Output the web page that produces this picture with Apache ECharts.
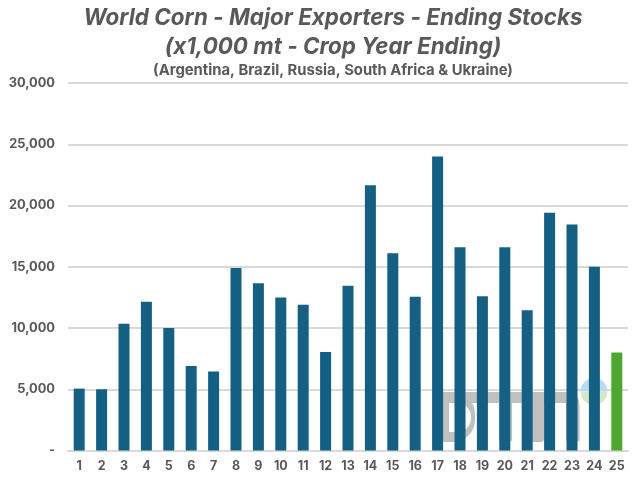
<!DOCTYPE html>
<html><head><meta charset="utf-8">
<style>html,body{margin:0;padding:0;background:#fff}#c{width:640px;height:480px}</style>
<script src="https://cdn.jsdelivr.net/npm/echarts@6/dist/echarts.min.js"></script>
</head><body><div id="c"></div>
<script>
const categories = ['1','2','3','4','5','6','7','8','9','10','11','12','13','14','15','16','17','18','19','20','21','22','23','24','25'];
const stocks = [5050,5000,10350,12150,10000,6900,6450,14900,13650,12500,11900,8050,13450,21650,16100,12550,24000,16600,12600,16600,11450,19400,18450,15000,8000];
const highlighted = '25';
const titleLine1 = 'World Corn - Major Exporters - Ending Stocks';
const titleLine2 = '(x1,000 mt - Crop Year Ending)';
const subtitle = '(Argentina, Brazil, Russia, South Africa & Ukraine)';
const FONT = 'Inter';
const GREY = '#c0c0c0';
const wm = (x,y,width,height,r,fill) => ({type:'rect',z:1,silent:true,shape:{x,y,width,height,r},style:{fill:fill||GREY}});
const chart = echarts.init(document.getElementById('c'), null, {renderer:'canvas'});
chart.setOption({
  animation:false,
  backgroundColor:'#fff',
  textStyle:{fontFamily:FONT},
  grid:{left:68,right:12,top:83,bottom:29.5,containLabel:false},
  graphic:[
    wm(442,392,33,50,[2,22,22,2]),
    wm(449,403,22,29,[0,14,14,0],'#fff'),
    wm(465,392,114,11,[0,13,0,0]),
    wm(499,392,13,50,[0,0,3,3]),
    wm(531,392,13,50,[0,0,3,3]),
    wm(566,392,13.5,50,[0,13,3,3]),
    {type:'sector',z:1,silent:true,shape:{cx:594,cy:391.5,r:13.5,startAngle:Math.PI,endAngle:2*Math.PI},style:{fill:'#b9dcf2'}},
    {type:'sector',z:1,silent:true,shape:{cx:594,cy:391.5,r:13.5,startAngle:0,endAngle:Math.PI},style:{fill:'#d3e8c8'}},
    {type:'text',x:333,y:7,style:{text:titleLine1,align:'center',fontFamily:FONT,fontStyle:'italic',fontWeight:'bold',fontSize:22.4,fill:'#595959'}},
    {type:'text',x:333,y:36,style:{text:titleLine2,align:'center',fontFamily:FONT,fontStyle:'italic',fontWeight:'bold',fontSize:22.4,fill:'#595959'}},
    {type:'text',x:333,y:63,style:{text:subtitle,align:'center',fontFamily:FONT,fontWeight:'bold',fontSize:14.8,fill:'#595959'}}
  ],
  xAxis:{type:'category',data:categories,
    axisLine:{show:true,lineStyle:{color:'#d9d9d9',width:2}},axisTick:{show:false},
    axisLabel:{interval:0,margin:9,color:'#595959',fontFamily:FONT,fontWeight:'bold',fontSize:12.5}},
  yAxis:{type:'value',min:0,max:30000,interval:5000,
    axisLine:{show:false},axisTick:{show:false},
    splitLine:{show:true,lineStyle:{color:'#d9d9d9',width:2}},
    axisLabel:{margin:13,color:'#595959',fontFamily:FONT,fontWeight:'bold',fontSize:12.8,
      formatter:v=>v===0?'-':v.toLocaleString('en-US')}},
  series:[{type:'bar',z:3,barWidth:11,
    data:stocks.map((v,i)=>({value:v,itemStyle:{color:categories[i]===highlighted?'#4ea72e':'#156082'}}))}]
});
</script></body></html>
